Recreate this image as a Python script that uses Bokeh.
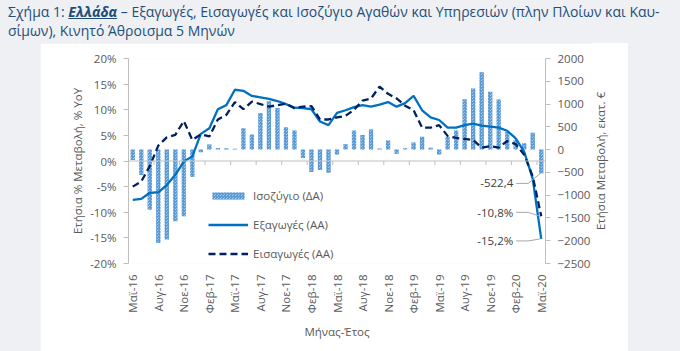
import math
from bokeh.plotting import figure
from bokeh.models import (Range1d, LinearAxis, FixedTicker, PrintfTickFormatter, Span,
                          Legend, LegendItem, Div, Spacer)
from bokeh.layouts import column, row
from bokeh.embed import file_html
from bokeh.resources import INLINE
from bokeh.core.properties import value

# ---------------- data ----------------
months = ["Μαϊ-16", "Ιουν-16", "Ιουλ-16", "Αυγ-16", "Σεπ-16", "Οκτ-16", "Νοε-16", "Δεκ-16",
          "Ιαν-17", "Φεβ-17", "Μαρ-17", "Απρ-17", "Μαϊ-17", "Ιουν-17", "Ιουλ-17", "Αυγ-17",
          "Σεπ-17", "Οκτ-17", "Νοε-17", "Δεκ-17", "Ιαν-18", "Φεβ-18", "Μαρ-18", "Απρ-18",
          "Μαϊ-18", "Ιουν-18", "Ιουλ-18", "Αυγ-18", "Σεπ-18", "Οκτ-18", "Νοε-18", "Δεκ-18",
          "Ιαν-19", "Φεβ-19", "Μαρ-19", "Απρ-19", "Μαϊ-19", "Ιουν-19", "Ιουλ-19", "Αυγ-19",
          "Σεπ-19", "Οκτ-19", "Νοε-19", "Δεκ-19", "Ιαν-20", "Φεβ-20", "Μαρ-20", "Απρ-20",
          "Μαϊ-20"]

# Ισοζύγιο (ΔΑ), εκατ. €
balance = [-230, -560, -1320, -2050, -1975, -1575, -1465, -600,
           -60, 110, 35, 30, 20, 470, 330, 805,
           1060, 915, 490, 420, -185, -490, -445, -510,
           -110, 115, 417, 322, 440, 25, 200, -90,
           30, 155, 285, 40, -105, 280, 420, 1105,
           1340, 1697, 1270, 1098, 385, 210, 140, 370,
           -522.4]

# Εξαγωγές (ΑΑ), % YoY
exports = [-7.6, -7.4, -6.2, -6.1, -4.7, -2.7, -0.1, 0.9,
           5.3, 6.4, 10.1, 10.9, 13.9, 13.7, 12.7, 12.4,
           12.1, 11.7, 11.1, 10.4, 10.3, 10.1, 7.7, 7.0,
           9.4, 9.9, 10.5, 10.9, 10.6, 11.0, 11.5, 10.6,
           11.3, 12.7, 9.9, 8.5, 8.0, 6.5, 6.5, 7.0,
           7.3, 6.9, 6.7, 6.5, 5.9, 4.4, 1.8, -3.5,
           -15.2]

# Εισαγωγές (ΑΑ), % YoY
imports = [-5.0, -4.0, -1.0, 3.0, 4.6, 5.1, 7.8, 4.1,
           5.2, 4.8, 8.1, 9.0, 11.5, 10.1, 11.6, 11.1,
           10.6, 10.9, 11.2, 10.3, 10.6, 10.7, 8.1, 8.1,
           8.5, 8.8, 10.0, 11.8, 12.2, 14.5, 13.1, 12.2,
           10.8, 9.9, 6.5, 6.5, 7.0, 4.9, 4.5, 4.3,
           4.1, 2.6, 2.9, 2.6, 3.9, 3.3, 1.2, -3.0,
           -10.8]

tick_step = 3
left_ticks = [-20, -15, -10, -5, 0, 5, 10, 15, 20]
right_ticks = [-2500, -2000, -1500, -1000, -500, 0, 500, 1000, 1500, 2000]

# ---------------- style ----------------
FONT = "Open Sans"
GREY_TXT = "#595959"
AXIS_GREY = "#BFBFBF"
BLUE = "#0070C0"
NAVY = "#002060"
BAR_BLUE = "#5B9BD5"

n = len(months)
xs = list(range(n))
FW, FH = 417, 205
TOP, BOTTOM, LEFT, RIGHT = 15, 88, 88, 45

p = figure(frame_width=FW, frame_height=FH,
           x_range=Range1d(-0.5, n - 0.5),
           y_range=Range1d(left_ticks[0], left_ticks[-1]),
           output_backend="svg", toolbar_location=None,
           min_border_left=LEFT, min_border_right=RIGHT, min_border_top=TOP,
           min_border_bottom=BOTTOM, margin=0)
p.extra_y_ranges = {"bal": Range1d(right_ticks[0], right_ticks[-1])}
p.xgrid.visible = False
p.ygrid.visible = False
p.outline_line_color = None
p.background_fill_color = "white"
p.border_fill_color = "white"

# bars (balance)
bars = p.vbar(x=xs, top=balance, bottom=0, width=0.5, y_range_name="bal",
              fill_color="#C9DFF4", line_color=None,
              hatch_pattern="criss_cross", hatch_color=BAR_BLUE, hatch_scale=3, hatch_weight=1.2)

# zero line with category ticks
p.add_layout(Span(location=0, dimension="width", line_color=AXIS_GREY, line_width=1))
tick_pos = [i - 0.5 for i in range(0, n, tick_step)]
tick_len = 4 * (left_ticks[-1] - left_ticks[0]) / FH
p.segment(x0=tick_pos, y0=[0] * len(tick_pos), x1=tick_pos, y1=[-tick_len] * len(tick_pos),
          line_color=AXIS_GREY, line_width=1)

l_exp = p.line(xs, exports, line_color=BLUE, line_width=2.3)
l_imp = p.line(xs, imports, line_color=NAVY, line_width=2.3, line_dash="7 4")

# axes
xa = p.xaxis[0]
xa.ticker = FixedTicker(ticks=list(range(0, n, tick_step)))
xa.major_label_overrides = {i: months[i] for i in range(0, n, tick_step)}
xa.major_label_orientation = math.pi / 2
xa.axis_line_color = None
xa.major_tick_line_color = None
xa.minor_tick_line_color = None
xa.major_label_standoff = 5
xa.axis_label = "Μήνας-Έτος"
xa.axis_label_standoff = 8

ya = p.yaxis[0]
ya.ticker = FixedTicker(ticks=left_ticks)
ya.formatter = PrintfTickFormatter(format="%d%%")
ya.axis_label = "Ετήσια % Μεταβολή, % YoY"

ra = LinearAxis(y_range_name="bal", ticker=FixedTicker(ticks=right_ticks))
p.add_layout(ra, "right")

for ax in (xa, ya, ra):
    ax.major_label_text_font = FONT
    ax.major_label_text_font_size = "11.5px"
    ax.major_label_text_color = GREY_TXT
    ax.axis_label_text_font = FONT
    ax.axis_label_text_font_size = "11.5px"
    ax.axis_label_text_font_style = "normal"
    ax.axis_label_text_color = GREY_TXT
for ax in (ya, ra):
    ax.axis_line_color = AXIS_GREY
    ax.major_tick_line_color = AXIS_GREY
    ax.major_tick_out = 5
    ax.major_tick_in = 0
    ax.minor_tick_line_color = None
    ax.major_label_standoff = 7
ya.axis_label_standoff = 2

# data labels with leader lines
xpx = (n) / FW
lpx = (left_ticks[-1] - left_ticks[0]) / FH
rpx = (right_ticks[-1] - right_ticks[0]) / FH

def fmt(v, suffix=""):
    return f"{v:.1f}".replace(".", ",") + suffix

labels = [
    (balance[-1], fmt(balance[-1]), "bal", rpx, 10),
    (imports[-1], fmt(imports[-1], "%"), "default", lpx, -4),
    (exports[-1], fmt(exports[-1], "%"), "default", lpx, 2),
]
for v, txt, rng, upx, dy in labels:
    p.text(x=[n - 1], y=[v], text=[txt], y_range_name=rng, x_offset=-28, y_offset=dy,
           text_align="right", text_baseline="middle", text_font=value(FONT),
           text_font_size="11.5px", text_color="#404040")
    ly = v - dy * upx
    p.line(x=[n - 1 - 25 * xpx, n - 1 - 13 * xpx, n - 1 - 1 * xpx], y=[ly, ly, v],
           y_range_name=rng, line_color="#A6A6A6", line_width=1)

legend = Legend(items=[LegendItem(label="Ισοζύγιο (ΔΑ)", renderers=[bars]),
                       LegendItem(label="Εξαγωγές (ΑΑ)", renderers=[l_exp]),
                       LegendItem(label="Εισαγωγές (ΑΑ)", renderers=[l_imp])],
                location=(80, 0), orientation="vertical",
                glyph_width=40, glyph_height=9, label_standoff=5, spacing=9,
                padding=0, margin=0, border_line_color=None, background_fill_alpha=0,
                label_text_font=FONT, label_text_font_size="11.5px", label_text_color=GREY_TXT,
                label_height=20)
p.add_layout(legend)

# right axis title (reads bottom-to-top, like the left one)
fig_h = TOP + FH + BOTTOM
right_title = Div(
    text=('<div style="position:absolute; left:8px; top:%.1fpx; '
          'transform:translate(-50%%,-50%%) rotate(-90deg); white-space:nowrap; '
          'font-family:\'Open Sans\'; font-size:11.5px; color:%s;">'
          'Ετήσια Μεταβολή, εκατ. €</div>') % (TOP + FH / 2, GREY_TXT),
    width=35, height=fig_h, margin=0,
    styles={"background-color": "white", "position": "relative", "overflow": "hidden"})

title_html = ('Σχήμα 1: <b><i><u>Ελλάδα</u></i></b> – Εξαγωγές, Εισαγωγές και Ισοζύγιο Αγαθών '
              'και Υπηρεσιών (πλην Πλοίων και Καυ-<br>σίμων), Κινητό Άθροισμα 5 Μηνών')
title = Div(text=title_html, width=680, height=43, margin=0,
            styles={"font-family": "Open Sans", "font-size": "14px", "color": "#1F4E79",
                    "line-height": "19px", "padding-left": "8px", "padding-top": "2px",
                    "white-space": "nowrap", "box-sizing": "border-box"})

layout = column(title,
                row(Spacer(width=40, height=fig_h, margin=0), p, right_title, margin=0,
                    spacing=0),
                styles={"background-color": "#EEF0F3"}, width=680, height=351, spacing=0,
                margin=0)

open("out.html", "w").write(file_html(layout, INLINE))
